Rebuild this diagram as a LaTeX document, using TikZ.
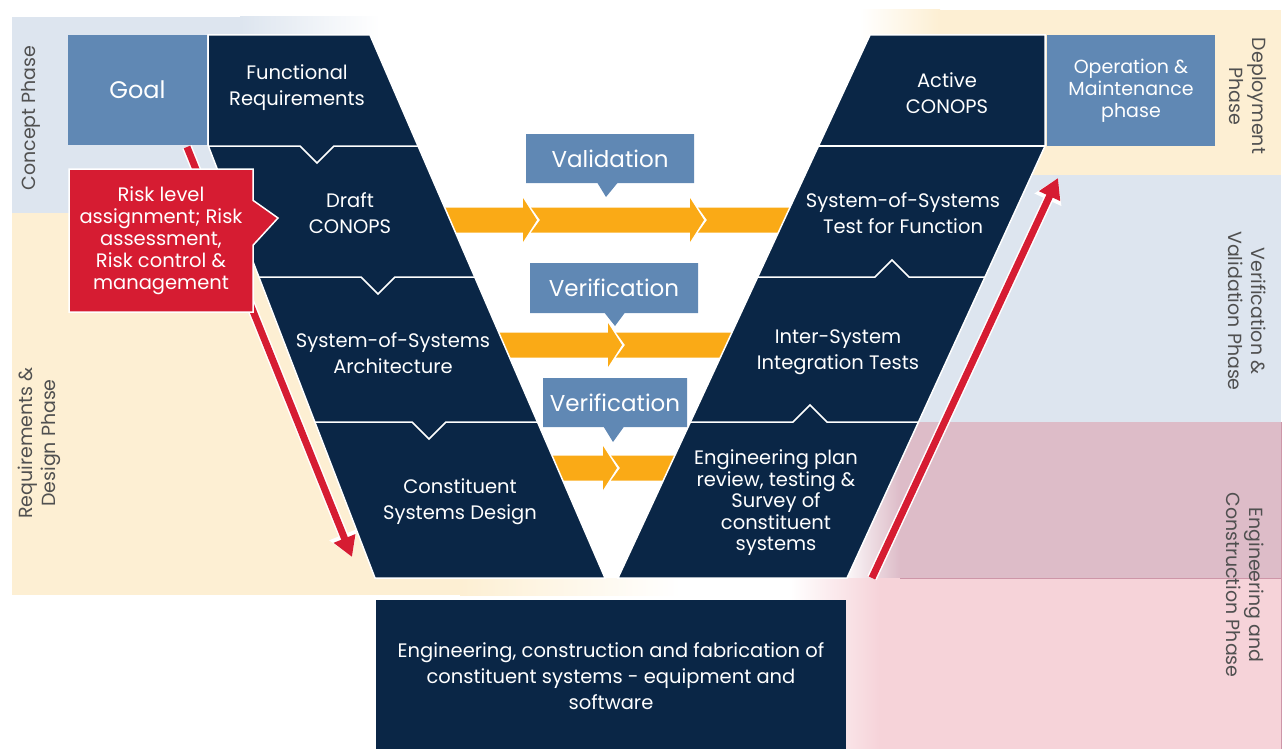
\documentclass[tikz,border=0pt]{standalone}
\usepackage{fontspec}
\setmainfont{Poppins}
\usetikzlibrary{arrows.meta,shapes.callouts,positioning}
\definecolor{navy}{RGB}{10,38,70}
\definecolor{steel}{RGB}{96,136,180}
\definecolor{riskred}{RGB}{214,28,50}
\definecolor{amber}{RGB}{250,170,22}
\definecolor{skyband}{RGB}{221,229,239}
\definecolor{creamband}{RGB}{253,239,211}
\definecolor{roseband}{RGB}{221,188,200}
\definecolor{pinkband}{RGB}{246,211,217}
\definecolor{roseline}{RGB}{205,150,168}
\definecolor{phasegray}{RGB}{80,80,80}
\tikzset{font=\fontsize{19.5}{26}\selectfont}
\tikzstyle{stage}=[text=white,align=center]
\tikzstyle{phase}=[text=phasegray,align=center,font=\fontsize{19}{23}\selectfont]
\tikzstyle{tag}=[rectangle callout,fill=steel,text=white,inner sep=0pt,callout pointer width=20pt,font=\fontsize{23}{26}\selectfont]
\tikzstyle{sep}=[draw=white,line width=1.5pt]
\tikzstyle{arm}=[fill=navy,draw=white,line width=1.5pt]
\tikzstyle{riskline}=[riskred,line width=7pt,-{Triangle[width=22pt,length=20pt]}]
\tikzstyle{halo}=[white,line width=10pt,-{Triangle[width=28pt,length=24pt]}]
\newcommand{\chevband}[3]{\fill[amber] (#2,#1-12.5) -- (#3,#1-12.5) -- (#3,#1-22) -- (#3+14,#1) -- (#3,#1+22) -- (#3,#1+12.5) -- (#2,#1+12.5) -- (#2+9,#1) -- cycle;}

\begin{document}
\begin{tikzpicture}[x=1pt,y=-1pt]
\useasboundingbox (0,0) rectangle (1284,749);
% phase bands
\fill[skyband] (12,17) rectangle (240,213);
\shade[left color=skyband,right color=white] (240,17) rectangle (380,213);
\fill[creamband] (12,213) -- (440,213) -- (560,500) -- (560,578) -- (12,578) -- cycle;
\fill[creamband] (12,578) rectangle (460,595);
\shade[left color=creamband,right color=white] (460,578) rectangle (680,595);
\shade[left color=white,right color=creamband] (860,10) rectangle (940,175);
\fill[creamband] (940,10) rectangle (1281,175);
\fill[skyband] (900,175) rectangle (1281,422);
\shade[left color=white,right color=roseband] (840,422) rectangle (900,578);
\fill[roseband] (900,422) rectangle (1281,578);
\shade[left color=white,right color=pinkband] (790,578) rectangle (880,749);
\fill[pinkband] (880,578) rectangle (1281,749);
\draw[roseline] (900,578) -- (1281,578) (1281,422) -- (1281,749);
% orange flow
\chevband{220}{430}{523}
\chevband{220}{531}{690}
\fill[amber] (698,207.5) -- (810,207.5) -- (810,232.5) -- (698,232.5) -- (707,220) -- cycle;
\chevband{345}{480}{608}
\fill[amber] (616,332.5) -- (760,332.5) -- (760,357.5) -- (616,357.5) -- (625,345) -- cycle;
\chevband{468}{540}{603}
\fill[amber] (611,455.5) -- (700,455.5) -- (700,480.5) -- (611,480.5) -- (620,468) -- cycle;
% the V
\path[arm] (208,35) -- (370,35) -- (605,578) -- (375,578) -- (208,145) -- cycle;
\path[arm] (870,35) -- (1045,35) -- (1045,146) -- (847,578) -- (618,578) -- cycle;
\path[sep] (208,146) -- (300,146) -- (317,163) -- (334,146) -- (418,146);
\path[sep] (259,277) -- (361,277) -- (378,294) -- (395,277) -- (475,277);
\path[sep] (315,422) -- (412,422) -- (429,439) -- (446,422) -- (537,422);
\path[sep] (818,146) -- (1045,146);
\path[sep] (758,277) -- (875,277) -- (892,260) -- (909,277) -- (985,277);
\path[sep] (690,422) -- (793,422) -- (810,405) -- (827,422) -- (918,422);
% red arrows
\coordinate (downA) at (187,147);
\coordinate (downB) at (352,557);
\coordinate (upA) at (872,578);
\coordinate (upB) at (1058,178);
\draw[halo] (downA) -- (downB);
\draw[riskline] (downA) -- (downB);
\draw[halo] (upA) -- (upB);
\draw[riskline] (upA) -- (upB);
% boxes
\node[fill=steel,text=white,minimum width=139pt,minimum height=110pt,font=\fontsize{24}{26}\selectfont] (goal) at (137.5,90) {Goal};
\node[fill=steel,text=white,minimum width=168pt,minimum height=111pt,align=center,font=\fontsize{19}{22}\selectfont] (opm) at (1131,90.5) {Operation \&\\Maintenance\\phase};
\node[tag,minimum width=168pt,minimum height=49pt,callout absolute pointer={(606,197)}] (valid) at (610,158.5) {Validation};
\node[tag,minimum width=168pt,minimum height=50pt,callout absolute pointer={(615,326)}] (verA) at (614,288) {Verification};
\node[tag,minimum width=144pt,minimum height=49pt,callout absolute pointer={(613,442)}] (verB) at (615,402.5) {Verification};
\node[rectangle callout,fill=riskred,draw=white,line width=1.5pt,text=white,align=center,minimum width=184pt,minimum height=143pt,callout absolute pointer={(278,218)},callout pointer width=45pt,font=\fontsize{19.5}{22}\selectfont] (risk) at (161,240.5) {Risk level\\assignment; Risk\\assessment,\\Risk control \&\\management};
% stage texts
\node[stage] (funreq) at (297,88) {Functional\\Requirements};
\node[stage] (draft) at (350,213) {Draft\\CONOPS};
\node[stage] (sosarch) at (393,353) {System-of-Systems\\Architecture};
\node[stage] (csd) at (460,502) {Constituent\\Systems Design};
\node[stage] (active) at (947,93) {Active\\CONOPS};
\node[stage] (sostest) at (903,213) {System-of-Systems\\Test for Function};
\node[stage] (intsys) at (838,352) {Inter-System\\Integration Tests};
\node[stage,font=\fontsize{19.5}{21.5}\selectfont] (engplan) at (776,503) {Engineering plan\\review, testing \&\\Survey of\\constituent\\systems};
\node[fill=navy,text=white,align=center,minimum width=470pt,minimum height=152pt] (fab) at (611,676) {Engineering, construction and fabrication of\\constituent systems - equipment and\\software};
% phase labels
\node[phase,rotate=90] (concept) at (31,118) {Concept Phase};
\node[phase,rotate=90] (reqdes) at (39,443) {Requirements \&\\Design Phase};
\node[phase,rotate=-90] (deploy) at (1248,96) {Deployment\\Phase};
\node[phase,rotate=-90] (vandv) at (1247,311) {Verification \&\\Validation Phase};
\node[phase,rotate=-90] (engcon) at (1245,585) {Engineering and\\Construction Phase};
\end{tikzpicture}
\end{document}
